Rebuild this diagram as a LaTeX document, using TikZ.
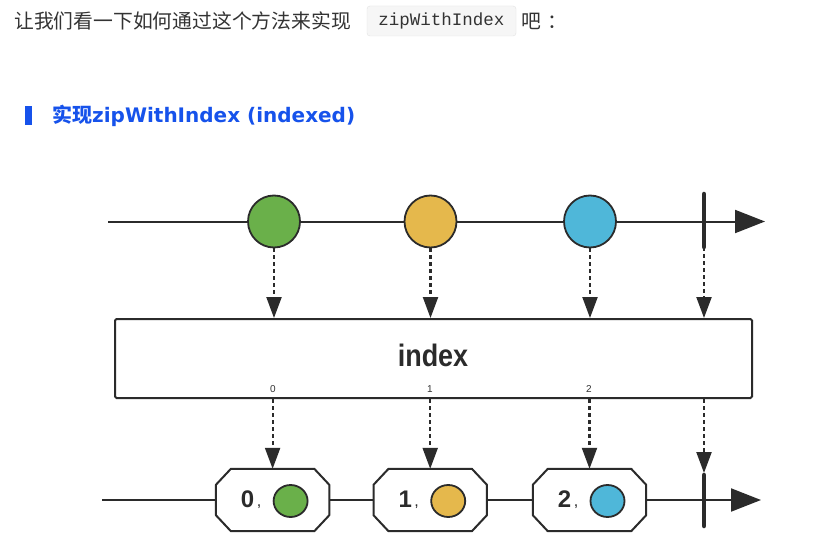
\documentclass[tikz,border=0pt]{standalone}
\usepackage{fontspec}
\setmainfont{Liberation Sans}
\newfontfamily\cjk{Noto Sans CJK SC}
\newfontfamily\hlat{DejaVu Sans}
\newfontfamily\codefont{Liberation Mono}
\usetikzlibrary{arrows.meta,shapes.geometric}
\definecolor{ink}{HTML}{2B2B2B}
\definecolor{txt}{HTML}{333333}
\definecolor{hblue}{RGB}{22,82,235}
\definecolor{dgreen}{RGB}{106,176,74}
\definecolor{dyellow}{RGB}{229,184,76}
\definecolor{dblue}{RGB}{79,183,217}
\definecolor{codebg}{HTML}{F6F6F6}
\definecolor{codeborder}{HTML}{E3E3E3}
\tikzset{
  marble/.style={circle, draw=ink, line width=1.8pt, minimum size=52pt, inner sep=0pt},
  smallmarble/.style={ellipse, draw=ink, line width=1.8pt, minimum width=34pt, minimum height=32pt, inner sep=0pt},
  timeline/.style={draw=ink, line width=2pt, -{Triangle[length=30pt,width=23pt]}},
  flow/.style={draw=ink, line width=2.2pt, dash pattern=on 4pt off 3pt, -{Triangle[length=21pt,width=15pt]}},
  endbar/.style={draw=ink, line width=4.5pt, line cap=round},
  octo/.style={draw=ink, line width=2pt, fill=white, line join=round},
  octbox/.style={minimum width=113pt, minimum height=62pt, inner sep=0pt},
  tick/.style={font=\fontsize{10}{10}\selectfont, text=txt, inner sep=0pt},
  digit/.style={font=\bfseries\fontsize{24}{24}\selectfont, text=ink, inner sep=0pt}
}
\begin{document}
\begin{tikzpicture}[x=1pt,y=-1pt]
\useasboundingbox[fill=white] (0,0) rectangle (832,556);

% intro line
\node[anchor=west, font=\cjk\fontsize{19.8}{20}\selectfont, text=txt, inner sep=0pt] (intro) at (14,21) {让我们看一下如何通过这个方法来实现};
\node[draw=codeborder, fill=codebg, rounded corners=3pt, minimum width=149pt, minimum height=30pt, inner sep=0pt, font=\codefont\fontsize{17.5}{18}\selectfont, text=txt] (code) at (441.5,21) {zipWithIndex};
\node[anchor=west, font=\cjk\fontsize{19.8}{20}\selectfont, text=txt, inner sep=0pt] (tail) at (521,21) {吧\kern6pt：};

% heading
\node[fill=hblue, minimum width=7.5pt, minimum height=19pt, inner sep=0pt] (hbar) at (28.25,115.5) {};
\node[anchor=west, font=\cjk\bfseries\fontsize{20}{22}\selectfont, text=hblue, inner sep=0pt] (head) at (52,115.5) {实现{\hlat\bfseries zipWithIndex (indexed)}};

% top timeline
\coordinate (t0) at (108,221.5);
\coordinate (t1) at (765,221.5);
\draw[timeline] (t0) -- (t1);
\node[marble, fill=dgreen] (m1) at (274,221.5) {};
\node[marble, fill=dyellow] (m2) at (430.5,221.5) {};
\node[marble, fill=dblue] (m3) at (590,221.5) {};
\coordinate (ct) at (704,194);
\coordinate (cb) at (704,247);
\draw[endbar] (ct) -- (cb);

% operator box
\node[draw=ink, line width=2pt, rounded corners=1.5pt, minimum width=637pt, minimum height=79pt, inner sep=0pt] (idx) at (433.5,358.5) {};
\node[font=\bfseries\fontsize{31}{31}\selectfont, text=ink, inner sep=0pt] (idxlabel) at (433,355) {\scalebox{0.87}[1]{index}};
\node[tick] (k0) at (273,389) {0};
\node[tick] (k1) at (430,389) {1};
\node[tick] (k2) at (589,389) {2};

% arrows into box
\draw[flow] (m1.south) -- (m1.south |- idx.north);
\draw[flow] (m2.south) -- (m2.south |- idx.north);
\draw[flow] (m3.south) -- (m3.south |- idx.north);
\draw[flow] (cb) -- (cb |- idx.north);

% bottom timeline
\coordinate (b0) at (102,500);
\coordinate (b1) at (761,500);
\draw[timeline] (b0) -- (b1);

\foreach \n/\cx/\d/\col in {1/272.6/0/dgreen, 2/430.2/1/dyellow, 3/589.5/2/dblue}{
  \node[octbox] (o\n) at (\cx,500) {};
  \draw[octo] ([xshift=15pt]o\n.north west) -- ([xshift=-15pt]o\n.north east)
    -- ([yshift=-16pt]o\n.north east) -- ([yshift=16pt]o\n.south east)
    -- ([xshift=-15pt]o\n.south east) -- ([xshift=15pt]o\n.south west)
    -- ([yshift=16pt]o\n.south west) -- ([yshift=-16pt]o\n.north west) -- cycle;
  \node[digit] (d\n) at (\cx-25,499.5) {\d};
  \node[font=\fontsize{16}{16}\selectfont, text=ink, inner sep=0pt, anchor=base] (cm\n) at (\cx-13.5,506) {,};
  \node[smallmarble, fill=\col] (s\n) at (\cx+18,501) {};
  \draw[flow] (idx.south -| o\n.north) -- (o\n.north);
}

\coordinate (et) at (704,475);
\coordinate (eb) at (704,526);
\draw[flow, shorten >=2pt] (idx.south -| et) -- (et);
\draw[endbar] (et) -- (eb);
\end{tikzpicture}
\end{document}
